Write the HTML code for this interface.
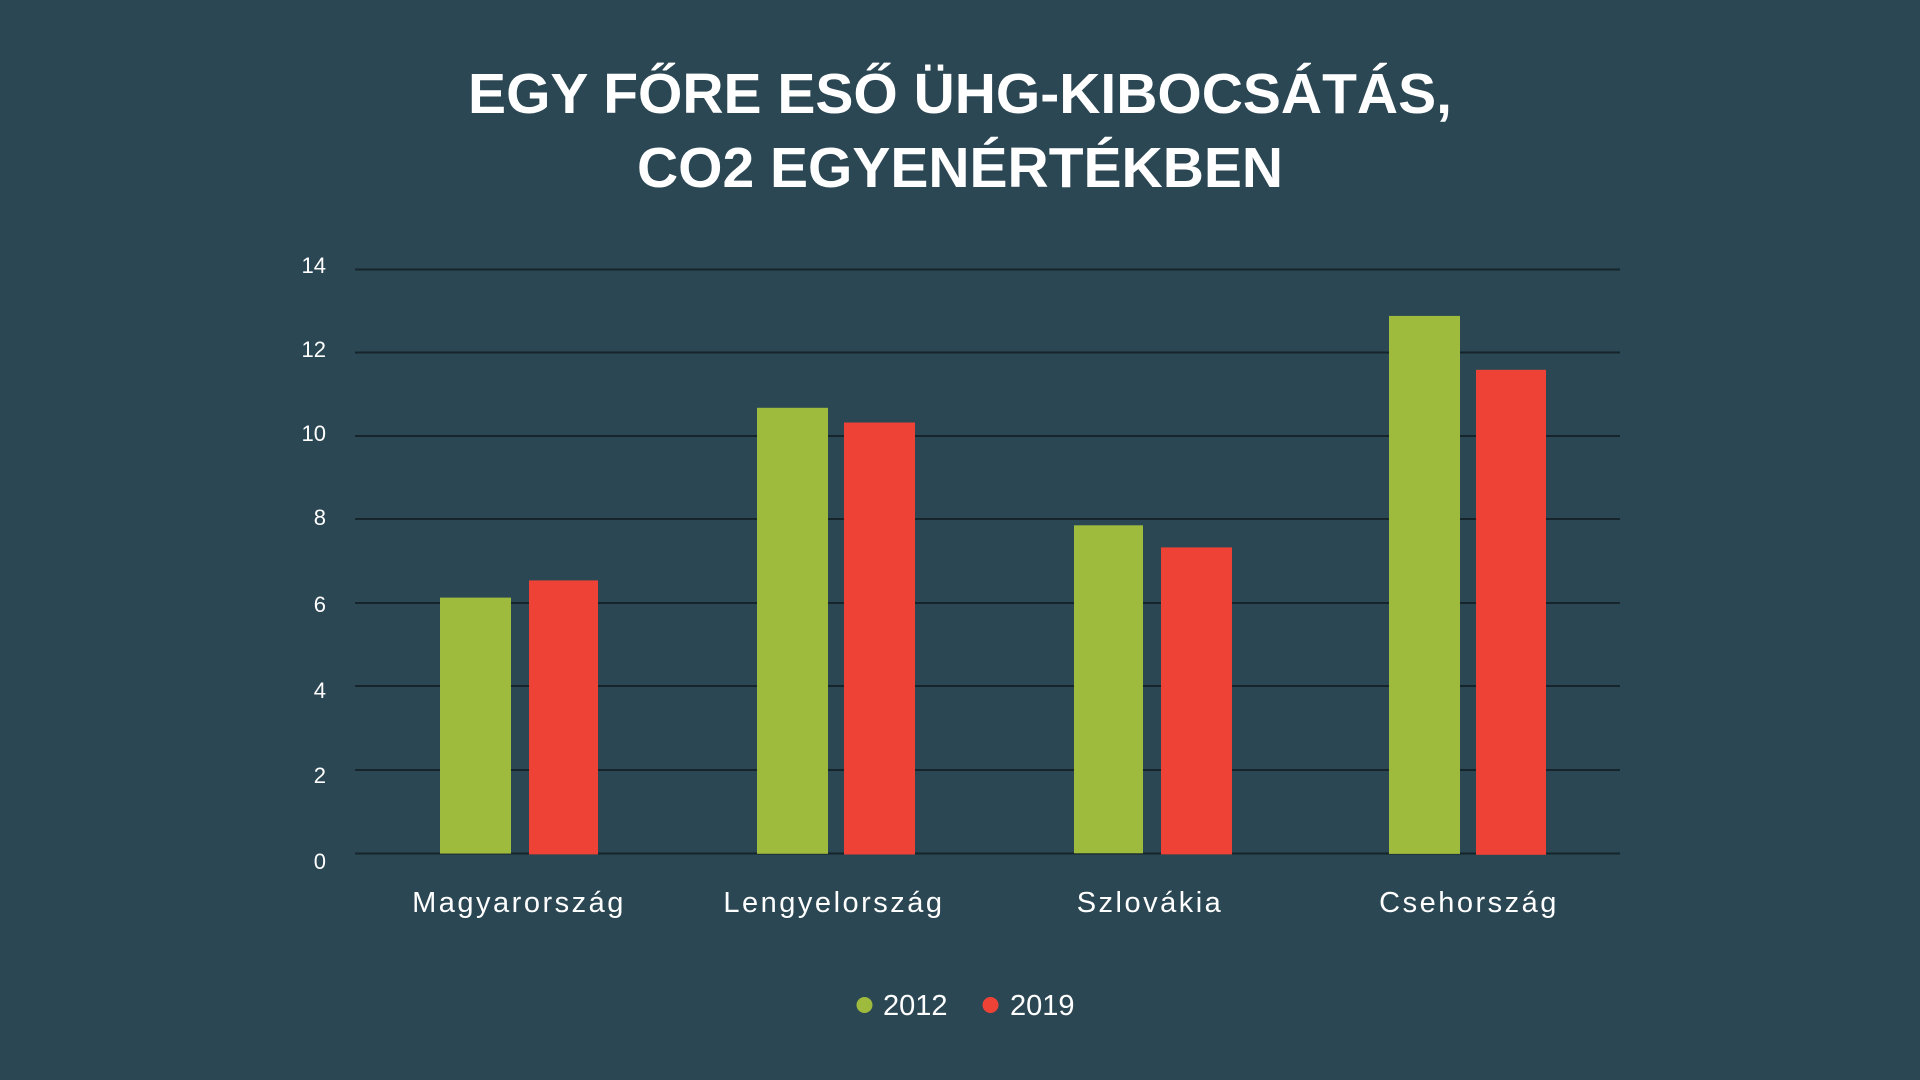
<!DOCTYPE html>
<html><head><meta charset="utf-8"><style>
html,body{margin:0;padding:0;background:#2b4753;}
svg{display:block}
text{font-family:"Liberation Sans",sans-serif;fill:#fff}
</style></head><body>
<svg width="1920" height="1080" viewBox="0 0 1920 1080">
<rect width="1920" height="1080" fill="#2b4753"/>
<text x="960" y="113" text-anchor="middle" font-size="57" font-weight="bold">EGY FŐRE ESŐ ÜHG-KIBOCSÁTÁS,</text>
<text x="960" y="187" text-anchor="middle" font-size="57" font-weight="bold">CO2 EGYENÉRTÉKBEN</text>
<g stroke="#16252b" stroke-width="2">
<line x1="355" x2="1620" y1="269.5" y2="269.5"/>
<line x1="355" x2="1620" y1="352.5" y2="352.5"/>
<line x1="355" x2="1620" y1="436" y2="436"/>
<line x1="355" x2="1620" y1="519" y2="519"/>
<line x1="355" x2="1620" y1="603" y2="603"/>
<line x1="355" x2="1620" y1="686" y2="686"/>
<line x1="355" x2="1620" y1="770" y2="770"/>
<line x1="355" x2="1620" y1="853.5" y2="853.5"/>
</g>
<g font-size="22" text-anchor="end">
<text x="326" y="273">14</text>
<text x="326" y="357">12</text>
<text x="326" y="441">10</text>
<text x="326" y="525">8</text>
<text x="326" y="612">6</text>
<text x="326" y="698">4</text>
<text x="326" y="783">2</text>
<text x="326" y="869">0</text>
</g>
<g fill="#9fbb3d">
<rect x="440" y="597.6" width="71" height="256"/>
<rect x="757" y="407.8" width="71" height="446"/>
<rect x="1074" y="525.3" width="69" height="328"/>
<rect x="1389" y="315.9" width="71" height="538"/>
</g>
<g fill="#ee4237">
<rect x="529" y="580.4" width="69" height="274"/>
<rect x="844" y="422.5" width="71" height="432"/>
<rect x="1161" y="547.4" width="71" height="307"/>
<rect x="1476" y="369.8" width="70" height="485"/>
</g>
<g font-size="29" text-anchor="middle" letter-spacing="2.5">
<text x="519" y="912">Magyarország</text>
<text x="834" y="912">Lengyelország</text>
<text x="1150" y="912">Szlovákia</text>
<text x="1469" y="912">Csehország</text>
</g>
<circle cx="864.5" cy="1005" r="8" fill="#9fbb3d"/>
<circle cx="990.5" cy="1005" r="8" fill="#ee4237"/>
<g font-size="29">
<text x="883" y="1015">2012</text>
<text x="1010" y="1015">2019</text>
</g>
</svg>
</body></html>
